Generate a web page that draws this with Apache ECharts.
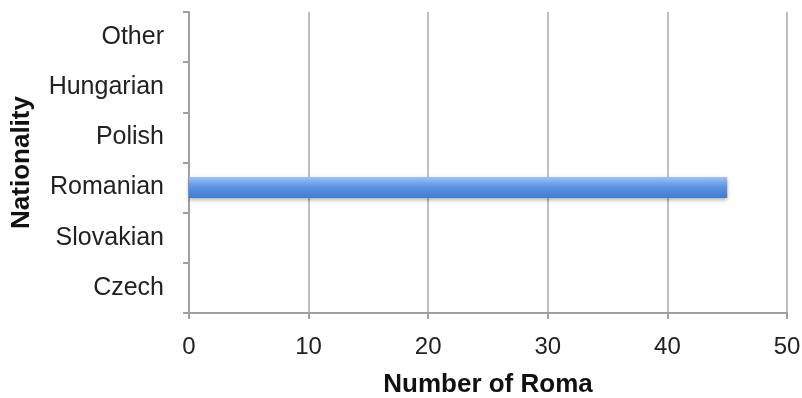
<!DOCTYPE html>
<html>
<head>
<meta charset="utf-8">
<script src="https://cdn.jsdelivr.net/npm/echarts@6/dist/echarts.min.js"></script>
<style>
  html, body { margin: 0; padding: 0; background: #fff; }
  #chart { width: 802px; height: 398px; }
</style>
</head>
<body>
<div id="chart"></div>
<script>
// 国籍（自下而上）
const nationalities = ["Czech", "Slovakian", "Romanian", "Polish", "Hungarian", "Other"];
const romaCounts = [0, 0, 45, 0, 0, 0];
const xTicks = [0, 10, 20, 30, 40, 50];

let myChart = echarts.init(document.getElementById("chart"));
let option = {
  animation: false,
  grid: {
    left: 189,
    right: 15,
    top: 12,
    bottom: 85,
    containLabel: false,
    outerBoundsMode: "none",
  },
  xAxis: {
    type: "value",
    min: xTicks[0],
    max: xTicks[xTicks.length - 1],
    interval: xTicks[1] - xTicks[0],
    name: "Number of Roma",
    nameLocation: "middle",
    nameGap: 59,
    nameTextStyle: {
      fontFamily: "Liberation Sans",
      fontSize: 26,
      fontWeight: "bold",
      color: "#111",
    },
    axisLine: { show: true, lineStyle: { color: "#a0a0a0", width: 2 } },
    axisTick: { show: true, length: 6, lineStyle: { color: "#a0a0a0", width: 2 } },
    axisLabel: {
      margin: 22,
      fontFamily: "Liberation Sans",
      fontSize: 24,
      color: "#222",
    },
    splitLine: { show: true, lineStyle: { color: "#a8a8a8", width: 1.5 } },
  },
  yAxis: {
    type: "category",
    data: nationalities,
    name: "Nationality",
    nameLocation: "middle",
    nameGap: 154,
    nameRotate: 90,
    nameTextStyle: {
      fontFamily: "Liberation Sans",
      fontSize: 26,
      fontWeight: "bold",
      color: "#111",
    },
    axisLine: { show: true, lineStyle: { color: "#a0a0a0", width: 2 } },
    axisTick: { show: true, length: 6, lineStyle: { color: "#a0a0a0", width: 2 } },
    axisLabel: {
      margin: 25,
      fontFamily: "Liberation Sans",
      fontSize: 25,
      color: "#222",
    },
  },
  series: [
    {
      type: "bar",
      data: romaCounts,
      barWidth: 21,
      itemStyle: {
        color: new echarts.graphic.LinearGradient(0, 0, 0, 1, [
          { offset: 0, color: "#9cc2f5" },
          { offset: 0.45, color: "#5e95e3" },
          { offset: 1, color: "#3f7bd2" },
        ]),
        shadowColor: "rgba(0,0,0,0.3)",
        shadowBlur: 4,
        shadowOffsetY: 2,
      },
    },
  ],
};
myChart.setOption(option);
</script>
</body>
</html>
